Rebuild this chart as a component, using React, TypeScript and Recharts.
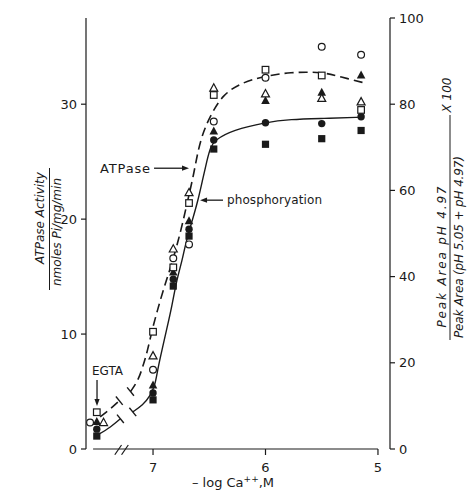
import { ComposedChart, Line, Scatter, XAxis, YAxis, ReferenceLine } from 'recharts';

// -log[Ca++] levels (x) for the measured points
const pCaLevels = [7.5, 7.0, 6.82, 6.68, 6.46, 6.0, 5.5, 5.15];
const openCirclePCa = [7.56, 7.0, 6.82, 6.68, 6.46, 6.0, 5.5, 5.15];
const openTrianglePCa = [7.44, 7.0, 6.82, 6.68, 6.46, 6.0, 5.5, 5.15];

// ATPase activity, nmoles Pi/mg/min (left axis)
const atpOpenCircle = [2.3, 6.9, 16.6, 17.8, 28.5, 32.3, 35.0, 34.3];
const atpOpenSquare = [3.2, 10.2, 15.8, 21.4, 30.8, 33.0, 32.5, 29.5];
const atpOpenTriangle = [2.3, 8.1, 17.4, 22.3, 31.4, 30.9, 30.5, 30.2];

// phosphorylation, % (right axis)
const phosFilledTriangle = [6.3, 14.8, 41.0, 52.9, 73.7, 80.8, 82.7, 86.7];
const phosFilledCircle = [4.6, 13.0, 39.4, 51.0, 71.7, 75.7, 75.5, 77.1];
const phosFilledSquare = [3.0, 11.4, 37.8, 49.4, 69.6, 70.7, 72.0, 73.9];

// fitted curves, split at the axis break
const atpCurvePCaA = [7.47, 7.38, 7.3];
const atpCurveA = [2.8, 3.5, 4.2];
const atpCurvePCaB = [7.2, 7.13, 7.09, 7.05, 7.01, 6.96, 6.91, 6.85, 6.79, 6.74, 6.69, 6.64, 6.6, 6.55, 6.48, 6.38, 6.23, 6.03, 5.78, 5.49, 5.34, 5.1];
const atpCurveB = [5.0, 6.0, 7.2, 8.5, 10.3, 12.1, 13.8, 15.6, 17.6, 19.5, 21.7, 23.8, 26.0, 27.7, 29.2, 30.8, 31.8, 32.4, 32.8, 32.8, 32.4, 31.8];

const phosCurvePCaA = [7.49, 7.38, 7.29];
const phosCurveA = [3.3, 5.1, 7.0];
const phosCurvePCaB = [7.18, 7.09, 7.03, 6.98, 6.96, 6.92, 6.88, 6.83, 6.79, 6.74, 6.71, 6.65, 6.6, 6.56, 6.52, 6.49, 6.45, 6.29, 6.0, 5.78, 5.49, 5.14];
const phosCurveB = [8.6, 10.2, 12.1, 14.9, 18.3, 23.0, 27.6, 33.4, 39.2, 43.8, 47.8, 53.1, 57.7, 62.4, 67.0, 70.0, 71.7, 74.0, 75.8, 76.5, 76.7, 77.0];

const xTicks = [7, 6, 5];
const leftTicks = [0, 10, 20, 30];
const rightTicks = [0, 20, 40, 60, 80, 100];

const FONT = '"DejaVu Sans", sans-serif';
const INK = '#1a1a1a';

const zip = (xs: number[], ys: number[]) => xs.map((x, i) => ({ x, y: ys[i] }));

const openCircle = (p: any) => <circle cx={p.cx} cy={p.cy} r={3.4} fill="#fff" stroke={INK} strokeWidth={1.2} />;
const openSquare = (p: any) => <rect x={p.cx - 3.3} y={p.cy - 3.3} width={6.6} height={6.6} fill="#fff" stroke={INK} strokeWidth={1.2} />;
const openTriangle = (p: any) => (
  <polygon points={`${p.cx},${p.cy - 4.3} ${p.cx + 4},${p.cy + 3} ${p.cx - 4},${p.cy + 3}`} fill="#fff" stroke={INK} strokeWidth={1.2} />
);
const filledCircle = (p: any) => <circle cx={p.cx} cy={p.cy} r={3.7} fill={INK} />;
const filledSquare = (p: any) => <rect x={p.cx - 3.6} y={p.cy - 3.6} width={7.2} height={7.2} fill={INK} />;
const filledTriangle = (p: any) => (
  <polygon points={`${p.cx},${p.cy - 4.8} ${p.cx + 4.3},${p.cy + 3.2} ${p.cx - 4.3},${p.cy + 3.2}`} fill={INK} />
);

// perpendicular bar at the ends of a broken curve
const breakTick = (at: number) => (p: any) => {
  if (p.index !== at) return <g key={`d${p.index}`} />;
  return <line key={`d${p.index}`} x1={p.cx - 3.4} y1={p.cy - 4.2} x2={p.cx + 3.4} y2={p.cy + 4.2} stroke={INK} strokeWidth={1.4} />;
};

const arrow = (label: (x: number, y: number) => any) => (p: any) => {
  const { x1, y1, x2, y2 } = p;
  const a = Math.atan2(y2 - y1, x2 - x1);
  const c = Math.cos(a), s = Math.sin(a);
  const bx = x2 - 7 * c, by = y2 - 7 * s;
  return (
    <g>
      <line x1={x1} y1={y1} x2={bx} y2={by} stroke={INK} strokeWidth={1.3} />
      <polygon points={`${x2},${y2} ${bx + 2.6 * s},${by - 2.6 * c} ${bx - 2.6 * s},${by + 2.6 * c}`} fill={INK} />
      {label(x1, y1)}
    </g>
  );
};

const atpLabel = (x: number, y: number) => (
  <text x={x - 4} y={y} dy="0.35em" textAnchor="end" fontSize={13} fontFamily={FONT} fill={INK} textLength={50}>ATPase</text>
);
const phosLabel = (x: number, y: number) => (
  <text x={x + 4} y={y} dy="0.35em" textAnchor="start" fontSize={12} fontFamily={FONT} fill={INK} textLength={95}>phosphoryation</text>
);
const egtaLabel = (x: number, y: number) => (
  <text x={x - 5} y={y - 5} textAnchor="start" fontSize={12} fontFamily={FONT} fill={INK} textLength={31}>EGTA</text>
);

const xTitle = () => (
  <text x={233} y={487} textAnchor="middle" fontSize={13} fontFamily={FONT} fill={INK}>
    <tspan>– log Ca</tspan>
    <tspan dy={-5} fontSize={9}>++</tspan>
    <tspan dy={5}>,M</tspan>
  </text>
);

const leftTitle = () => (
  <g fontFamily={FONT} fontStyle="italic" fontSize={12} fill={INK}>
    <text x={40} y={218} textAnchor="middle" dominantBaseline="central" transform="rotate(-90 40 218)">ATPase Activity</text>
    <line x1={49.5} y1={168} x2={49.5} y2={290} stroke={INK} strokeWidth={1} />
    <text x={57} y={232} textAnchor="middle" dominantBaseline="central" transform="rotate(-90 57 232)">nmoles Pi/mg/min</text>
  </g>
);

const rightTitle = () => (
  <g fontFamily={FONT} fontStyle="italic" fontSize={12} fill={INK}>
    <text x={442} y={257} textAnchor="middle" dominantBaseline="central" transform="rotate(-90 442 257)" textLength={141}>Peak Area pH 4.97</text>
    <line x1={450} y1={115} x2={450} y2={340} stroke={INK} strokeWidth={1} />
    <text x={459} y={247} textAnchor="middle" dominantBaseline="central" transform="rotate(-90 459 247)" textLength={182}>Peak Area (pH 5.05  + pH 4.97)</text>
    <text x={447} y={95} textAnchor="middle" dominantBaseline="central" transform="rotate(-90 447 95)">X 100</text>
  </g>
);

export default function App() {
  const tick = { fontSize: 13, fill: INK, fontFamily: FONT };
  return (
    <div style={{ position: 'absolute', left: 0, top: 0, background: '#fff' }}>
      <ComposedChart width={469} height={499} margin={{ top: 18, right: 0, bottom: 0, left: 0 }}>
        <XAxis
          type="number"
          dataKey="x"
          domain={[4.893, 7.596]}
          allowDataOverflow
          reversed
          ticks={xTicks}
          axisLine={false}
          tickLine={{ stroke: INK, strokeWidth: 1.2 }}
          tickSize={6}
          tickMargin={8}
          tick={tick}
          height={50}
          label={xTitle}
        />
        <YAxis
          yAxisId="left"
          type="number"
          dataKey="y"
          domain={[0, 37.5]}
          allowDataOverflow
          ticks={leftTicks}
          width={86}
          axisLine={{ stroke: INK, strokeWidth: 1.2 }}
          tickLine={{ stroke: INK, strokeWidth: 1.2 }}
          tickSize={5}
          tickMargin={4}
          tick={tick}
          label={leftTitle}
        />
        <YAxis
          yAxisId="right"
          orientation="right"
          type="number"
          dataKey="y"
          domain={[0, 100]}
          allowDataOverflow
          ticks={rightTicks}
          width={79}
          axisLine={{ stroke: INK, strokeWidth: 1.2 }}
          tickLine={{ stroke: INK, strokeWidth: 1.2 }}
          tickSize={5}
          tickMargin={4}
          tick={tick}
          label={rightTitle}
        />

        {/* x axis line with break marks */}
        <ReferenceLine yAxisId="left" ifOverflow="visible" segment={[{ x: 7.533, y: 0 }, { x: 5.0, y: 0 }]} stroke={INK} strokeWidth={1.2} />
        <ReferenceLine yAxisId="left" ifOverflow="visible" segment={[{ x: 7.34, y: -0.5 }, { x: 7.28, y: 0.35 }]} stroke={INK} strokeWidth={1.2} />
        <ReferenceLine yAxisId="left" ifOverflow="visible" segment={[{ x: 7.28, y: -0.5 }, { x: 7.22, y: 0.35 }]} stroke={INK} strokeWidth={1.2} />

        <Line yAxisId="left" data={zip(atpCurvePCaA, atpCurveA)} dataKey="y" type="monotone" stroke={INK} strokeWidth={1.6} strokeDasharray="9 5" dot={breakTick(atpCurveA.length - 1)} activeDot={false} isAnimationActive={false} />
        <Line yAxisId="left" data={zip(atpCurvePCaB, atpCurveB)} dataKey="y" type="basis" stroke={INK} strokeWidth={1.6} strokeDasharray="9 5" dot={breakTick(0)} activeDot={false} isAnimationActive={false} />
        <Line yAxisId="right" data={zip(phosCurvePCaA, phosCurveA)} dataKey="y" type="monotone" stroke={INK} strokeWidth={1.4} dot={breakTick(phosCurveA.length - 1)} activeDot={false} isAnimationActive={false} />
        <Line yAxisId="right" data={zip(phosCurvePCaB, phosCurveB)} dataKey="y" type="basis" stroke={INK} strokeWidth={1.4} dot={breakTick(0)} activeDot={false} isAnimationActive={false} />

        <Scatter yAxisId="right" data={zip(pCaLevels, phosFilledSquare)} shape={filledSquare} isAnimationActive={false} />
        <Scatter yAxisId="right" data={zip(pCaLevels, phosFilledCircle)} shape={filledCircle} isAnimationActive={false} />
        <Scatter yAxisId="right" data={zip(pCaLevels, phosFilledTriangle)} shape={filledTriangle} isAnimationActive={false} />
        <Scatter yAxisId="left" data={zip(pCaLevels, atpOpenSquare)} shape={openSquare} isAnimationActive={false} />
        <Scatter yAxisId="left" data={zip(openCirclePCa, atpOpenCircle)} shape={openCircle} isAnimationActive={false} />
        <Scatter yAxisId="left" data={zip(openTrianglePCa, atpOpenTriangle)} shape={openTriangle} isAnimationActive={false} />

        {/* annotations */}
        <ReferenceLine yAxisId="left" ifOverflow="visible" segment={[{ x: 6.991, y: 24.43 }, { x: 6.68, y: 24.43 }]} shape={arrow(atpLabel)} />
        <ReferenceLine yAxisId="left" ifOverflow="visible" segment={[{ x: 6.378, y: 21.65 }, { x: 6.582, y: 21.65 }]} shape={arrow(phosLabel)} />
        <ReferenceLine yAxisId="left" ifOverflow="visible" segment={[{ x: 7.498, y: 6.0 }, { x: 7.498, y: 3.75 }]} shape={arrow(egtaLabel)} />
      </ComposedChart>
    </div>
  );
}
